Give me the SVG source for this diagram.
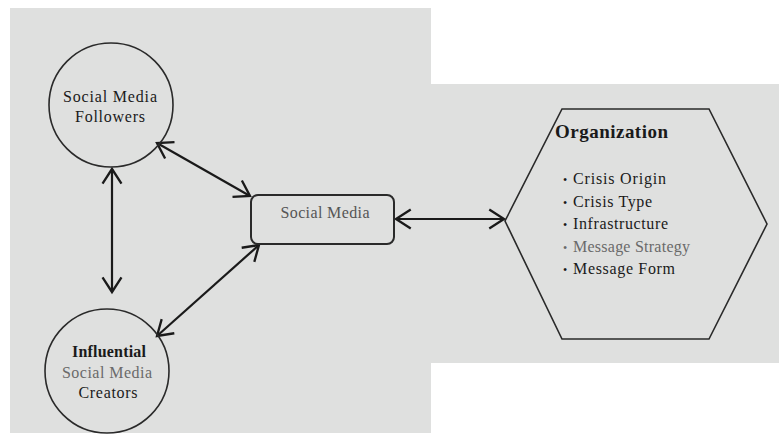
<svg xmlns="http://www.w3.org/2000/svg" width="779" height="435" viewBox="0 0 779 435">
<style>
text{font-family:"Liberation Serif","Times New Roman",serif;fill:#1a1a1a}
.node{fill:none;stroke:#2a2a2a;stroke-width:1.6}
.conn{stroke:#1a1a1a;stroke-width:2.2;fill:none;marker-start:url(#ah);marker-end:url(#ah)}
.gray{fill:#6a6a6a}
.c{text-anchor:middle}
</style>
<defs>
<marker id="ah" markerUnits="userSpaceOnUse" markerWidth="20" markerHeight="24" viewBox="-16 -11 19 22" refX="0" refY="0" orient="auto-start-reverse">
<path d="M-14,-9 L0,0 L-14,9" fill="none" stroke="#1a1a1a" stroke-width="2.2"/>
</marker>
</defs>
<rect width="779" height="435" fill="#ffffff"/>
<path d="M10,8 H431 V84 H779 V363 H431 V433 H10 Z" fill="#dfe0df"/>
<g id="connectors">
<line class="conn" x1="112" y1="169" x2="112" y2="292"/>
<line class="conn" x1="157" y1="143" x2="250" y2="196"/>
<line class="conn" x1="259" y1="245" x2="157" y2="336"/>
<line class="conn" x1="396" y1="219" x2="504" y2="219"/>
</g>
<g id="followers">
<circle class="node" cx="111" cy="105" r="62"/>
<text class="c" x="110" y="102" font-size="16" textLength="94" lengthAdjust="spacing">Social Media</text>
<text class="c" x="110" y="122" font-size="16" textLength="70" lengthAdjust="spacing">Followers</text>
</g>
<g id="creators">
<circle class="node" cx="107" cy="371" r="62"/>
<text class="c" x="109" y="357" font-size="16" font-weight="bold" textLength="74" lengthAdjust="spacing">Influential</text>
<text class="c gray" x="107" y="378" font-size="16" textLength="90" lengthAdjust="spacing">Social Media</text>
<text class="c" x="108" y="398" font-size="16" textLength="59" lengthAdjust="spacing">Creators</text>
</g>
<g id="socialmedia">
<rect x="251" y="195" width="143" height="49" rx="7" fill="none" stroke="#2a2a2a" stroke-width="2"/>
<text class="c" x="325" y="218" font-size="16" style="fill:#555" textLength="89" lengthAdjust="spacing">Social Media</text>
</g>
<g id="organization">
<polygon class="node" points="562,109 709,109 767,224 709,339 562,339 505,221"/>
<text x="555" y="138" font-size="19" font-weight="bold" textLength="113" lengthAdjust="spacing">Organization</text>
<text x="563" y="184" font-size="12">•</text>
<text x="573" y="184" font-size="16" textLength="93" lengthAdjust="spacing">Crisis Origin</text>
<text x="563" y="207" font-size="12">•</text>
<text x="573" y="207" font-size="16" textLength="79" lengthAdjust="spacing">Crisis Type</text>
<text x="563" y="229" font-size="12">•</text>
<text x="573" y="229" font-size="16" textLength="95" lengthAdjust="spacing">Infrastructure</text>
<text class="gray" x="563" y="252" font-size="12">•</text>
<text class="gray" x="573" y="252" font-size="16" textLength="117" lengthAdjust="spacing">Message Strategy</text>
<text x="563" y="274" font-size="12">•</text>
<text x="573" y="274" font-size="16" textLength="102" lengthAdjust="spacing">Message Form</text>
</g>
</svg>
